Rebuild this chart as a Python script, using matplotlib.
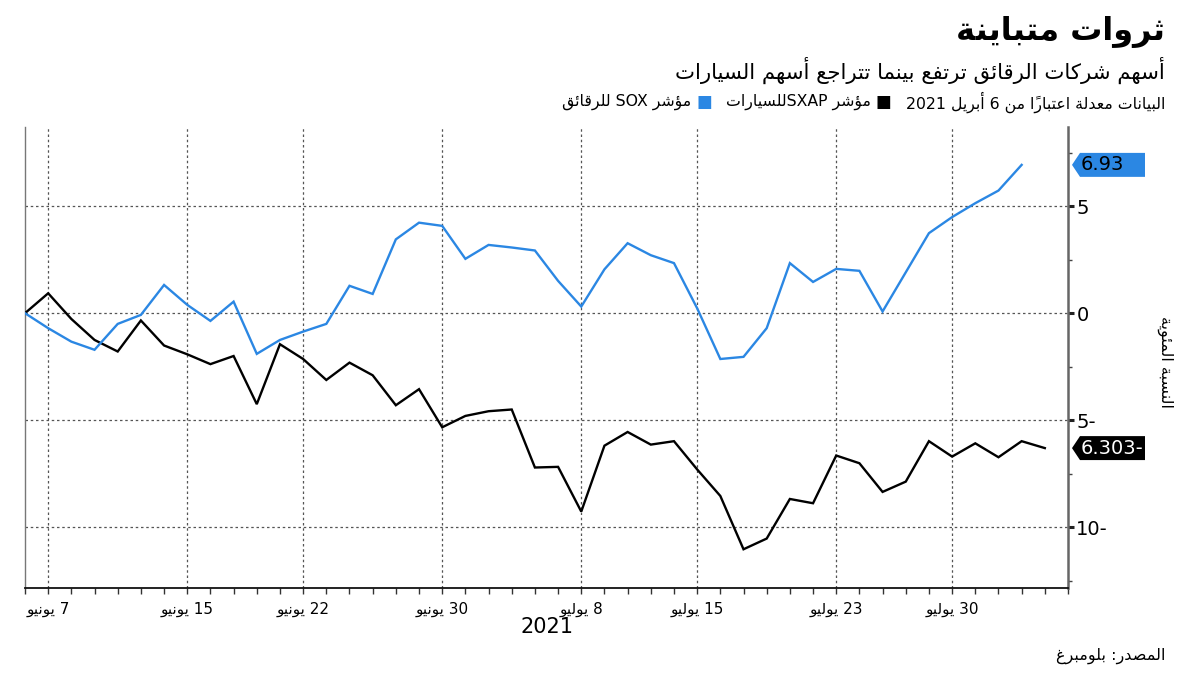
import re
import matplotlib
matplotlib.use("Agg")
import matplotlib.pyplot as plt
import matplotlib.transforms as mtransforms
from matplotlib.patches import Polygon
from matplotlib.ticker import FixedLocator, FixedFormatter, MultipleLocator
import pandas as pd

# ---------------- Arabic shaping helper (presentation forms + RTL order) -------------
_DUAL = {0x0626: 0xFE89, 0x0628: 0xFE8F, 0x062A: 0xFE95, 0x062B: 0xFE99, 0x062C: 0xFE9D,
         0x062D: 0xFEA1, 0x062E: 0xFEA5, 0x0633: 0xFEB1, 0x0634: 0xFEB5, 0x0635: 0xFEB9,
         0x0636: 0xFEBD, 0x0637: 0xFEC1, 0x0638: 0xFEC5, 0x0639: 0xFEC9, 0x063A: 0xFECD,
         0x0641: 0xFED1, 0x0642: 0xFED5, 0x0643: 0xFED9, 0x0644: 0xFEDD, 0x0645: 0xFEE1,
         0x0646: 0xFEE5, 0x0647: 0xFEE9, 0x064A: 0xFEF1}
_RIGHT = {0x0622: 0xFE81, 0x0623: 0xFE83, 0x0624: 0xFE85, 0x0625: 0xFE87, 0x0627: 0xFE8D,
          0x0629: 0xFE93, 0x062F: 0xFEA9, 0x0630: 0xFEAB, 0x0631: 0xFEAD, 0x0632: 0xFEAF,
          0x0648: 0xFEED, 0x0649: 0xFEEF}
_LAMALEF = {0x0622: 0xFEF5, 0x0623: 0xFEF7, 0x0625: 0xFEF9, 0x0627: 0xFEFB}


def _shape_run(s):
    toks = []
    i = 0
    while i < len(s):
        c = ord(s[i])
        if 0x064B <= c <= 0x065F or c == 0x0670:
            if toks:
                toks[-1]["marks"] += s[i]
            i += 1
            continue
        if c == 0x0644 and i + 1 < len(s) and ord(s[i + 1]) in _LAMALEF:
            toks.append(dict(base=_LAMALEF[ord(s[i + 1])], type="R", marks=""))
            i += 2
            continue
        if c in _DUAL:
            toks.append(dict(base=_DUAL[c], type="D", marks=""))
        elif c in _RIGHT:
            toks.append(dict(base=_RIGHT[c], type="R", marks=""))
        elif c == 0x0621:
            toks.append(dict(base=0xFE80, type="N", marks=""))
        else:
            toks.append(dict(ch=s[i], type=None, marks=""))
        i += 1
    out = []
    for k, t in enumerate(toks):
        if t["type"] is None:
            out.append(t["ch"] + t["marks"])
            continue
        prev = toks[k - 1] if k > 0 else None
        nxt = toks[k + 1] if k + 1 < len(toks) else None
        jp = prev is not None and prev["type"] == "D"
        jn = t["type"] == "D" and nxt is not None and nxt["type"] in ("D", "R")
        if t["type"] == "N":
            form = 0
        elif jp and jn:
            form = 3
        elif jp:
            form = 1
        elif jn:
            form = 2
        else:
            form = 0
        out.append(chr(t["base"] + form) + t["marks"])
    return out


def ar(s):
    runs = re.findall(r"[A-Za-z0-9][A-Za-z0-9.,]*|[^A-Za-z0-9]+", s)
    out = ""
    for r in reversed(runs):
        if re.match(r"[A-Za-z0-9]", r):
            out += r
        else:
            out += "".join(reversed(_shape_run(r)))
    return out


# ---------------- data ----------------
dates = pd.bdate_range("2021-06-04", "2021-08-05")   # trading days on the x axis

sox_semis = [0.00, -0.70, -1.33, -1.71, -0.50, -0.08, 1.32, 0.39, -0.36, 0.54,
             -1.90, -1.25, -0.86, -0.50, 1.28, 0.90, 3.45, 4.23, 4.08, 2.54,
             3.19, 3.07, 2.93, 1.51, 0.31, 2.05, 3.27, 2.71, 2.34, 0.23,
             -2.14, -2.04, -0.70, 2.34, 1.46, 2.07, 1.98, 0.08, 1.91, 3.74,
             4.49, 5.14, 5.73, 6.93]
sxap_autos = [0.00, 0.93, -0.27, -1.25, -1.79, -0.34, -1.51, -1.92, -2.38, -2.00,
              -4.25, -1.45, -2.14, -3.12, -2.31, -2.90, -4.30, -3.55, -5.33, -4.80,
              -4.58, -4.50, -7.21, -7.18, -9.27, -6.19, -5.55, -6.14, -5.98, -7.30,
              -8.54, -11.03, -10.53, -8.68, -8.88, -6.65, -7.01, -8.35, -7.87, -5.98,
              -6.70, -6.08, -6.73, -5.98, -6.303]

tick_dates = ["2021-06-07", "2021-06-15", "2021-06-22", "2021-06-30",
              "2021-07-08", "2021-07-15", "2021-07-23", "2021-07-30"]
tick_labels = ["7 يونيو", "15 يونيو", "22 يونيو", "30 يونيو",
               "8 يوليو", "15 يوليو", "23 يوليو", "30 يوليو"]
y_ticks = [5, 0, -5, -10]
y_tick_labels = ["5", "0", "5-", "10-"]

title = "ثروات متباينة"
subtitle = "أسهم شركات الرقائق ترتفع بينما تتراجع أسهم السيارات"
note = "البيانات معدلة اعتباراً من 6 أبريل 2021"
leg_autos = "مؤشر SXAPللسيارات"
leg_semis = "مؤشر SOX للرقائق"
y_label = "النسبة المئوية"
year_label = "2021"
source = "المصدر: بلومبرغ"
label_semis = "6.93"
label_autos = "6.303-"

BLUE = "#2B87E3"
BLACK = "#000000"
GRID = "#555555"

# ---------------- figure ----------------
W, H = 1200, 675
plt.rcParams["font.family"] = ["DejaVu Sans"]
fig = plt.figure(figsize=(12, 6.75), dpi=100)
fig.patch.set_facecolor("white")


def fx(px):
    return px / W


def fy(py):
    return 1 - py / H


ax = fig.add_axes([fx(25), fy(588), fx(1068) - fx(25), fy(127) - fy(588)])

x_semis = list(range(len(sox_semis)))
x_autos = list(range(len(sxap_autos)))
ax.plot(x_autos, sxap_autos, color=BLACK, lw=1.7, solid_joinstyle="miter", zorder=3)
ax.plot(x_semis, sox_semis, color=BLUE, lw=1.7, solid_joinstyle="miter", zorder=3)

ax.set_xlim(0, len(dates))
ax.set_ylim(-12.84, 8.7)

date_index = {d.strftime("%Y-%m-%d"): i for i, d in enumerate(dates)}
tick_pos = [date_index[d] for d in tick_dates]

ax.xaxis.set_major_locator(FixedLocator(tick_pos))
ax.xaxis.set_major_formatter(FixedFormatter([ar(t) for t in tick_labels]))
ax.xaxis.set_minor_locator(FixedLocator(list(range(len(dates) + 1))))
ax.tick_params(axis="x", which="both", direction="out", length=4, width=1, color="#333333",
               labelsize=11, pad=6)

ax.yaxis.tick_right()
ax.yaxis.set_major_locator(FixedLocator(y_ticks))
ax.yaxis.set_major_formatter(FixedFormatter(y_tick_labels))
ax.yaxis.set_minor_locator(MultipleLocator(2.5))
ax.tick_params(axis="y", which="major", direction="out", length=4, width=2.2, color="#222222",
               labelsize=14, pad=2)
ax.tick_params(axis="y", which="minor", direction="out", length=3, width=1, color="#444444")

for v in y_ticks:
    ax.axhline(v, color=GRID, lw=0.9, ls=(0, (2, 2.2)), zorder=1)
for p in tick_pos:
    ax.axvline(p, color=GRID, lw=0.9, ls=(0, (2, 2.2)), zorder=1)

ax.spines["top"].set_visible(False)
ax.spines["left"].set_color("#777777")
ax.spines["left"].set_linewidth(1.0)
ax.spines["right"].set_color("#666666")
ax.spines["right"].set_linewidth(1.8)
ax.spines["bottom"].set_color("#111111")
ax.spines["bottom"].set_linewidth(1.3)

# end-value labels
bt = mtransforms.blended_transform_factory(fig.transFigure, ax.transData)
hh = 0.56
for val, fc, tc, txt in [(sox_semis[-1], BLUE, "black", label_semis),
                         (sxap_autos[-1], BLACK, "white", label_autos)]:
    poly = Polygon([(fx(1072), val), (fx(1080), val + hh), (fx(1145), val + hh),
                    (fx(1145), val - hh), (fx(1080), val - hh)], closed=True,
                   transform=bt, facecolor=fc, edgecolor="none", clip_on=False, zorder=5)
    ax.add_patch(poly)
    ax.text(fx(1081), val, txt, transform=bt, ha="left", va="center", fontsize=14,
            color=tc, zorder=6, clip_on=False)

# ---------------- texts ----------------
fig.text(fx(1165), fy(32), ar(title), ha="right", va="center", fontsize=23,
         fontweight="bold", color="black")
fig.text(fx(1165), fy(70), ar(subtitle), ha="right", va="center", fontsize=15.3, color="black")

# legend line (built right to left)
renderer = fig.canvas.get_renderer()
ly = fy(102)
t1 = fig.text(fx(1165), ly, ar(note), ha="right", va="center", fontsize=11.3, color="black")
xr = t1.get_window_extent(renderer).x0 - 14
pieces = [(BLACK, leg_autos), (BLUE, leg_semis)]
for col, lab in pieces:
    sq = fig.text(xr / W, ly, "■", ha="right", va="center", fontsize=12, color=col)
    xr = sq.get_window_extent(renderer).x0 - 5
    tt = fig.text(xr / W, ly, ar(lab), ha="right", va="center", fontsize=11.3, color="black")
    xr = tt.get_window_extent(renderer).x0 - 14

fig.text(fx(1165), fy(362), ar(y_label), ha="center", va="center", rotation=270,
         fontsize=11.5, color="black")
fig.text(fx(547), fy(627), year_label, ha="center", va="center", fontsize=15, color="black")
fig.text(fx(1165), fy(656), ar(source), ha="right", va="center", fontsize=11.5, color="black")

fig.savefig("out.png", dpi=100, facecolor="white")
